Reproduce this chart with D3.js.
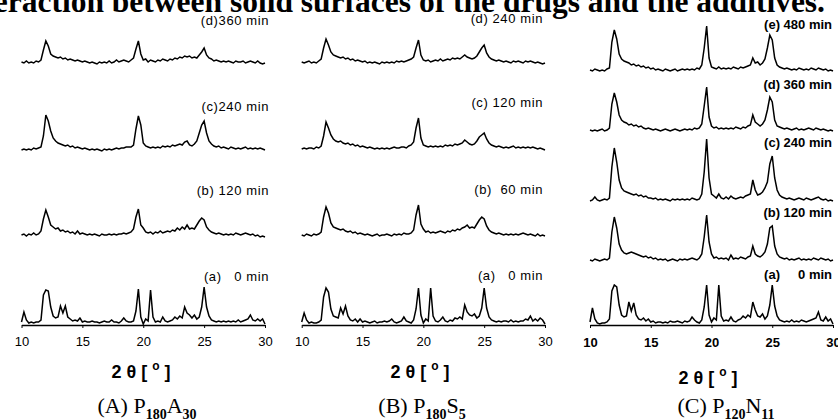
<!DOCTYPE html>
<html>
<head>
<meta charset="utf-8">
<title>XRD patterns</title>
<script src="https://cdn.jsdelivr.net/npm/d3@7"></script>
<style>
  body { margin: 0; background: #fff; }
  svg { display: block; }
  .trace { fill: none; stroke: #000; stroke-width: 1.5; stroke-linejoin: miter; }
  .lbl { font-family: "Liberation Sans", Arial, sans-serif; white-space: pre; fill: #000; }
</style>
</head>
<body>
<script>
// 2θ grid: 10.0 -> 30.0 in steps of 0.2 deg (101 readings per pattern)
const thetaStart = 10, thetaStep = 0.2;
const tickValues = [10, 15, 20, 25, 30];

// (A) P180A30
const labelsA = ["(a)   0 min", "(b) 120 min", "(c)240 min", "(d)360 min"];
const A_0 = [3,13,5,2,3,2,3,3,5, 30,35,34,18,9,7, 8,19,12,19,8,6,4,5,4,7,
  3,4,3,3,4,3,3,2,3,4,3,3,5,3,3, 2,4,7,4,3,3,4, 14,36,8,1,6,4,35,8,
  3,4,3,8,4,3,4,5,8,6,9,7, 18,12,10,7,10,6,8,18,38,18,9,5,4,
  3,4,3,4,3,4,3,4,3,5,3,4,5,6,10,5,4,6,4,6,1];
const A_120 = [2,3,1,3,2,4,2,3,6, 18,27,20,12,10,8, 9,6,7,5,6,4,5,3,6,3,
  4,3,2,3,2,3,2,1,3,2,2,3,2,3,2, 3,3,4,3,4,5,8, 20,28,12,9,5,4,5,3,
  5,4,6,4,5,6,5,7,6,9,7,10, 8,12,8,9,8,12,16,19,17,10,7,5,4,
  3,4,3,2,3,2,3,2,4,3,2,3,4,3,2,3,1,2,0,1,0];
const A_240 = [1,2,1,2,1,3,2,3,4, 15,36,30,20,13,10, 8,7,6,5,6,4,5,3,4,3,
  2,3,2,1,2,1,2,1,0,2,1,2,1,2,3, 2,3,3,4,4,4,6, 22,35,26,8,5,4,3,4,
  3,4,3,5,4,5,4,6,5,6,7,6, 9,10,6,5,7,10,18,26,30,18,10,7,5,
  4,5,3,4,3,2,4,3,2,3,2,3,4,2,3,2,3,2,3,2,1];
const A_360 = [2,1,3,1,2,1,3,2,4, 14,23,18,10,8,7, 6,7,5,6,4,5,4,3,4,3,
  2,3,2,1,2,1,0,2,1,2,1,3,1,2,4, 2,3,4,3,2,4,6, 15,23,10,4,5,2,4,3,
  2,4,3,5,4,3,5,4,6,5,7,6, 8,7,8,6,7,6,9,12,16,9,6,5,3,
  4,3,2,3,2,3,2,1,3,2,2,3,1,2,3,2,1,3,1,0,1];

// (B) P180S5
const labelsB = ["(a)   0 min", "(b)  60 min", "(c) 120 min", "(d) 240 min"];
const B_0 = [3,12,5,2,3,2,2,3,5, 28,37,33,16,9,8, 7,17,11,19,9,5,4,6,3,6,
  3,4,3,2,3,4,2,3,3,4,3,4,6,3,2, 3,4,8,4,3,2,5, 16,37,10,2,6,4,37,9,
  4,3,5,8,4,3,5,4,7,6,8,6, 20,13,10,9,11,7,9,17,37,17,8,5,4,
  3,4,3,4,4,3,5,3,4,3,4,4,6,5,9,4,6,4,7,5,1];
const B_60 = [2,1,3,2,1,3,2,3,5, 20,30,24,14,10,9, 8,7,8,6,5,6,4,5,3,4,
  3,2,3,2,1,2,3,1,2,2,3,2,1,3,2, 3,2,4,3,3,4,7, 22,32,13,8,5,6,4,5,
  4,5,6,5,4,6,5,7,6,8,7,9, 10,12,9,10,9,13,17,20,18,11,7,5,4,
  3,4,3,2,3,2,3,2,3,2,3,4,3,2,3,2,1,3,1,2,1];
const B_120 = [1,2,1,2,2,1,3,2,4, 14,28,22,15,11,9, 8,9,7,6,7,5,6,4,5,3,
  4,3,2,3,2,1,2,1,2,1,2,1,2,3,2, 2,3,3,2,4,5,8, 22,32,12,5,4,3,4,3,
  4,3,4,3,5,4,5,4,6,5,6,7, 10,8,6,5,6,9,13,15,17,11,7,5,4,
  3,4,3,2,3,2,3,4,2,3,2,3,2,3,2,3,2,1,2,1,0];
const B_240 = [2,1,2,3,1,2,1,3,5, 16,25,19,12,9,8, 7,6,7,5,6,4,5,3,4,3,
  2,3,1,2,1,2,1,0,2,1,2,1,2,1,3, 2,3,2,3,4,5,7, 16,24,9,4,3,4,2,3,
  4,3,5,3,4,5,4,6,5,6,5,7, 9,7,6,5,6,8,12,16,19,11,7,5,4,
  3,4,3,2,3,2,1,3,2,3,2,1,3,2,3,2,1,2,1,0,1];

// (C) P120N11
const labelsC = ["(a)     0 min", "(b) 120 min", "(c) 240 min", "(d) 360 min", "(e) 480 min"];
const C_0 = [3,17,6,2,1,2,2,3,6, 34,40,38,20,10,8, 9,23,14,22,10,6,5,7,4,6,
  3,4,2,3,3,2,3,2,4,3,3,4,3,2,4, 3,4,8,5,3,2,5, 18,40,10,3,7,5,40,9,
  4,5,4,8,4,3,5,6,9,7,10,8, 23,15,9,8,11,6,9,20,40,19,9,5,4,
  3,4,3,5,3,4,3,5,4,3,4,5,6,7,13,5,4,8,4,6,1];
const C_120 = [2,1,3,2,1,2,3,2,4, 30,45,34,18,12,9, 8,9,10,9,8,7,6,5,6,4,
  5,3,4,2,3,2,3,1,2,3,2,1,3,2,3, 2,3,4,3,2,4,8, 25,47,20,8,4,5,3,4,
  3,4,2,7,3,4,3,5,4,3,5,6, 16,8,6,5,7,10,18,34,36,16,8,5,4,
  3,4,2,3,2,3,4,2,3,2,3,2,4,3,2,4,3,2,3,1,2];
const C_240 = [1,2,5,2,1,2,3,2,4, 35,54,40,22,14,11, 10,9,8,7,8,6,7,5,6,4,
  4,3,4,2,3,2,3,2,1,3,2,3,2,3,2, 3,2,4,3,2,3,8, 30,63,24,8,6,4,8,4,
  3,5,3,6,4,3,4,5,4,6,7,8, 22,12,7,8,10,14,20,38,46,24,12,7,5,
  4,3,4,3,2,3,4,3,2,4,3,2,3,4,5,3,2,3,1,2,1];
const C_360 = [2,1,2,1,2,3,1,2,4, 28,39,30,17,12,10, 9,7,8,6,7,5,6,4,3,4,
  3,2,3,2,1,2,3,2,1,2,3,2,1,2,3, 2,3,2,4,3,4,8, 26,45,15,6,4,5,3,4,
  3,4,3,4,3,5,4,3,5,4,6,7, 17,10,8,6,8,12,22,35,30,12,6,5,4,
  3,4,3,2,3,4,2,3,2,3,4,3,2,4,3,2,3,2,1,2,1];
const C_480 = [2,1,3,2,1,2,1,3,4, 30,42,33,18,13,11, 10,9,7,8,6,7,5,6,4,5,
  3,4,2,3,2,1,3,2,1,2,3,1,2,3,2, 3,2,3,2,4,3,7, 24,46,14,5,4,3,5,3,
  4,3,4,3,5,4,3,5,4,5,6,7, 14,9,10,7,9,13,24,37,32,14,7,5,4,
  3,4,3,2,3,2,4,3,2,3,2,4,3,2,4,3,2,3,1,2,1];

// layout
const W = 838, H = 420;
const axisY = 325;
const panels = [
  { range: [21.5, 265], series: [A_0, A_120, A_240, A_360], labels: labelsA,
    offsets: [0, 88, 174, 261], labelY: [281, 195, 111, 25], labelX: 269,
    bold: false, titleX: 141, titleY: 378, name: ["(A) P", "180", "A", "30"], nameX: 147 },
  { range: [301.7, 545], series: [B_0, B_60, B_120, B_240], labels: labelsB,
    offsets: [0, 88, 175, 261], labelY: [280, 194, 107, 23], labelX: 543,
    bold: false, titleX: 420, titleY: 378, name: ["(B) P", "180", "S", "5"], nameX: 422 },
  { range: [590, 833], series: [C_0, C_120, C_240, C_360, C_480], labels: labelsC,
    offsets: [0, 63, 123, 193, 253], labelY: [279, 217, 147, 89, 29], labelX: 832,
    bold: true, titleX: 708, titleY: 384, name: ["(C) P", "120", "N", "11"], nameX: 726 }
];

const svg = d3.select("body").append("svg")
  .attr("width", W)
  .attr("height", H);

// cut-off caption above the figure
svg.append("text")
  .attr("x", 825)
  .attr("y", 12)
  .attr("text-anchor", "end")
  .style("font-family", "'Liberation Serif', 'Times New Roman', serif")
  .style("font-weight", "bold")
  .style("font-size", "31.5px")
  .text("Interaction between solid surfaces of the drugs and the additives.");

const y = d3.scaleLinear().domain([0, 300]).range([axisY, 25]);

panels.forEach(function (p) {
  const x = d3.scaleLinear().domain([10, 30]).range(p.range);
  const g = svg.append("g");

  const line = function (off) {
    return d3.line()
      .x(function (d, i) { return x(thetaStart + thetaStep * i); })
      .y(function (d) { return y(off + d); });
  };

  p.series.forEach(function (vals, k) {
    g.append("path")
      .attr("class", "trace")
      .attr("d", line(p.offsets[k])(vals));

    g.append("text")
      .attr("class", "lbl")
      .attr("x", p.labelX)
      .attr("y", p.labelY[k])
      .attr("text-anchor", "end")
      .style("font-size", "13px")
      .style("font-weight", p.bold ? "bold" : "normal")
      .style("letter-spacing", p.bold ? "0px" : "0.6px")
      .text(p.labels[k]);
  });

  // x-axis
  const axis = d3.axisBottom(x)
    .tickValues(tickValues)
    .tickSize(3)
    .tickSizeOuter(0)
    .tickPadding(p.bold ? 10 : 9);
  const ax = g.append("g")
    .attr("transform", "translate(0," + axisY + ")")
    .call(axis);
  ax.select(".domain").attr("stroke", "#000").attr("stroke-width", 1.5);
  ax.selectAll(".tick line").attr("stroke", "#000").attr("stroke-width", 1);
  ax.selectAll(".tick text")
    .attr("fill", "#000")
    .style("font-family", "'Liberation Sans', Arial, sans-serif")
    .style("font-size", "13px")
    .style("font-weight", p.bold ? "bold" : "normal");

  // 2θ [°]
  const t = g.append("text")
    .attr("x", p.titleX)
    .attr("y", p.titleY)
    .attr("text-anchor", "middle")
    .attr("class", "lbl")
    .style("font-size", "18px")
    .style("font-weight", "bold");
  t.append("tspan").text("2 θ [ ");
  t.append("tspan").attr("dy", -8).style("font-size", "12px").text("o");
  t.append("tspan").attr("dy", 8).text(" ]");

  // panel name with subscripts
  const n = g.append("text")
    .attr("x", p.nameX)
    .attr("y", 413)
    .attr("text-anchor", "middle")
    .style("font-family", "'Liberation Serif', 'Times New Roman', serif")
    .style("font-size", "22px");
  n.append("tspan").text(p.name[0]);
  n.append("tspan").attr("dy", 6).style("font-size", "14px").style("font-weight", "bold").text(p.name[1]);
  n.append("tspan").attr("dy", -6).text(p.name[2]);
  n.append("tspan").attr("dy", 6).style("font-size", "14px").style("font-weight", "bold").text(p.name[3]);
});
</script>
</body>
</html>
